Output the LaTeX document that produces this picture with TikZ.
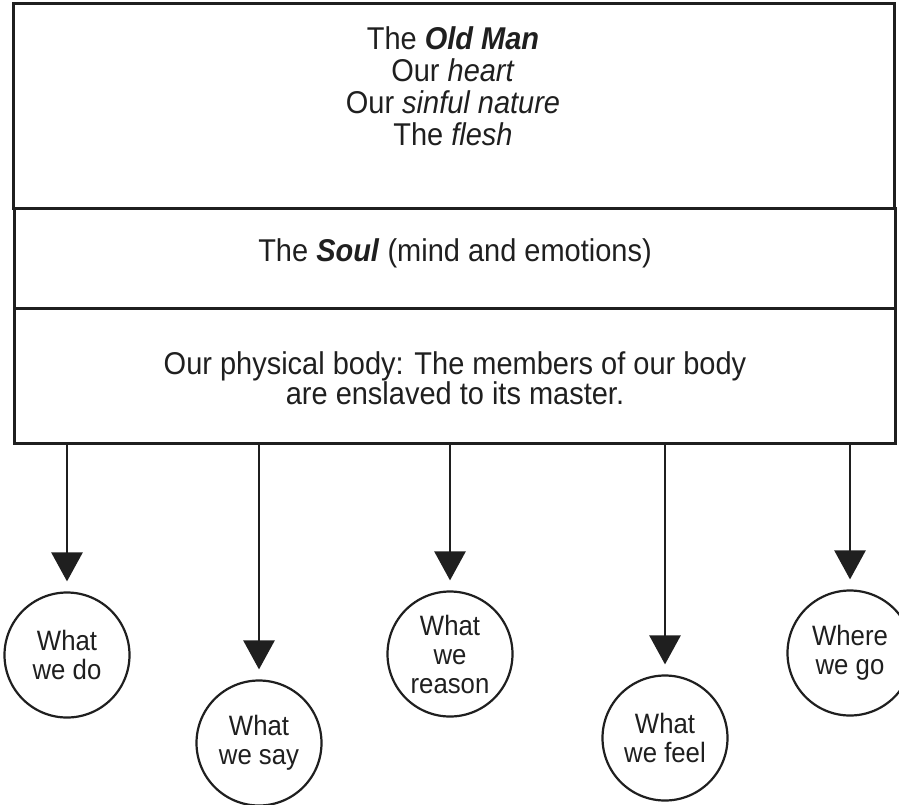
\documentclass[tikz,border=0pt]{standalone}
\usepackage{fontspec}
\setmainfont{Liberation Sans}[FakeStretch=0.92]
\usetikzlibrary{arrows.meta}
\tikzset{
  box/.style={draw=black!88, line width=3pt, minimum width=881pt, inner sep=0pt, anchor=north west},
  boxtext/.style={align=center, font=\fontsize{31.5}{32}\selectfont, text=black!88},
  bubble/.style={circle, draw=black!88, line width=2.2pt, minimum size=125pt, inner sep=0pt, align=center,
                 font=\fontsize{28}{29}\selectfont, text=black!88},
  conn/.style={draw=black!88, line width=2.6pt, shorten >=10pt,
               -{Triangle[width=31pt,length=29pt]}}
}
\begin{document}
\begin{tikzpicture}[x=1pt,y=-1pt]
\useasboundingbox (0,0) rectangle (899,804);
% boxes
\node[box, minimum height=205pt] (old) at (12,2) {};
\node[box, minimum height=100pt] (soul) at (13,207) {};
\node[box, minimum height=135pt] (body) at (13,307) {};
% texts
\node[boxtext] (oldtxt) at (453,86) {The \textbf{\textit{Old Man}}\\Our \textit{heart}\\Our \textit{sinful nature}\\The \textit{flesh}};
\node[boxtext] (soultxt) at (455,253) {The \textbf{\textit{Soul}} (mind and emotions)};
\node[boxtext, font=\fontsize{31.5}{30}\selectfont] (bodytxt) at (455,378) {Our physical body: The members of our body\\are enslaved to its master.};
% circles
\node[bubble] (c1) at (67,655) {What\\we do};
\node[bubble] (c2) at (259,743) {What\\we say};
\node[bubble] (c3) at (450,654) {What\\we\\reason};
\node[bubble] (c4) at (665,738) {What\\we feel};
\node[bubble] (c5) at (850,653) {Where\\we go};
% connectors
\foreach \c in {c1,c2,c3,c4,c5}
  \draw[conn] (body.south -| \c.north) -- (\c.north);
\end{tikzpicture}
\end{document}
